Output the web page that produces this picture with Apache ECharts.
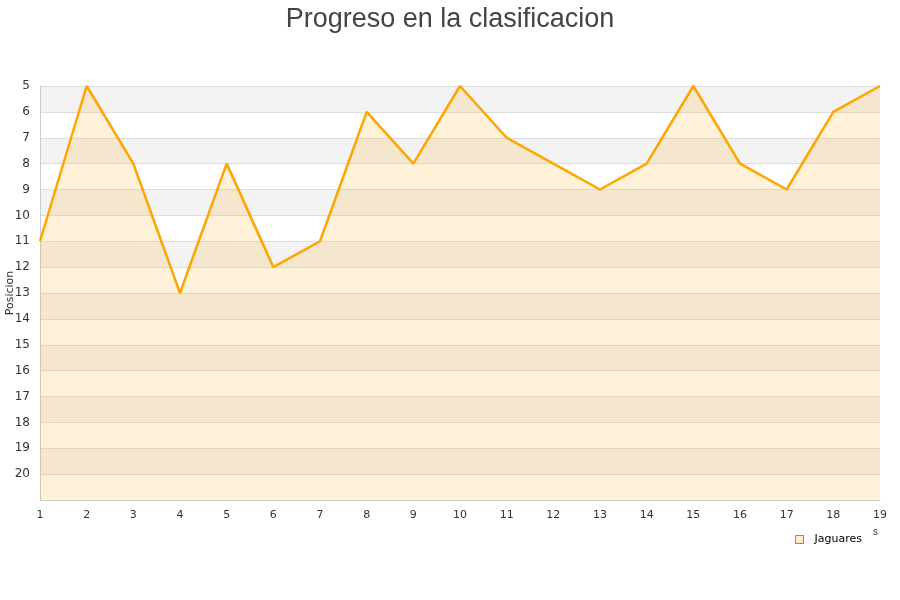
<!DOCTYPE html>
<html><head><meta charset="utf-8">
<script src="https://cdn.jsdelivr.net/npm/echarts@6/dist/echarts.min.js"></script>
<style>html,body{margin:0;padding:0;background:#fff}#c{width:900px;height:600px}</style>
</head><body><div id="c"></div>
<script>
var jornadas = ['1','2','3','4','5','6','7','8','9','10','11','12','13','14','15','16','17','18','19'];
var jaguares = [11,5,8,13,8,12,11,6,8,5,7,8,9,8,5,8,9,6,5];
var seriesName = 'Jaguares';
var chartTitle = 'Progreso en la clasificacion';
var yName = 'Posicion';

var chart = echarts.init(document.getElementById('c'));
chart.setOption({
  animation: false,
  title: { text: chartTitle, left: 'center', top: 1,
    textStyle: { fontSize: 27, fontWeight: 'normal', color: '#444', fontFamily: 'Liberation Sans' } },
  legend: { right: 33, top: 529, icon: 'rect', itemWidth: 8, itemHeight: 8, itemGap: 6,
    data: [{ name: seriesName, itemStyle: { color: '#ffedcc', borderColor: '#888', borderWidth: 1 } }],
    textStyle: { fontSize: 11, color: '#000', fontFamily: 'DejaVu Sans', padding: [0, 0, 0, 6] } },
  grid: { left: 40, right: 20, top: 86, bottom: 100, containLabel: false, outerBoundsMode: 'none' },
  xAxis: { type: 'category', data: jornadas, boundaryGap: false,
    name: 's', nameLocation: 'end', nameGap: 0, nameMoveOverlap: false,
    nameTextStyle: { fontSize: 10, color: '#333', padding: [27, 2, 0, 0], verticalAlign: 'top', align: 'right' },
    axisLine: { lineStyle: { color: '#ccc' } }, axisTick: { show: false },
    axisLabel: { fontSize: 11, color: '#333', margin: 10, fontFamily: 'DejaVu Sans' },
    splitLine: { show: false } },
  yAxis: { type: 'value', inverse: true, min: 5, max: 21, interval: 1,
    name: yName, nameLocation: 'middle', nameGap: 24, nameMoveOverlap: false,
    nameTextStyle: { fontSize: 11, color: '#333', fontFamily: 'DejaVu Sans' },
    axisLine: { show: true, lineStyle: { color: '#ccc' } }, axisTick: { show: false },
    axisLabel: { fontSize: 12, color: '#333', margin: 10, fontFamily: 'DejaVu Sans',
      formatter: function (v) { return v === 21 ? '' : v; } },
    splitLine: { show: true, lineStyle: { color: '#ddd' } },
    splitArea: { show: true, areaStyle: { color: ['#f3f3f3', '#ffffff'] } } },
  series: [{ name: seriesName, type: 'line', data: jaguares, showSymbol: false, symbol: 'none',
    lineStyle: { color: '#ffa500', width: 2.5 }, itemStyle: { color: '#ffa500' },
    areaStyle: { color: 'rgba(255,165,0,0.21)', origin: 'end' } }]
});
</script></body></html>
